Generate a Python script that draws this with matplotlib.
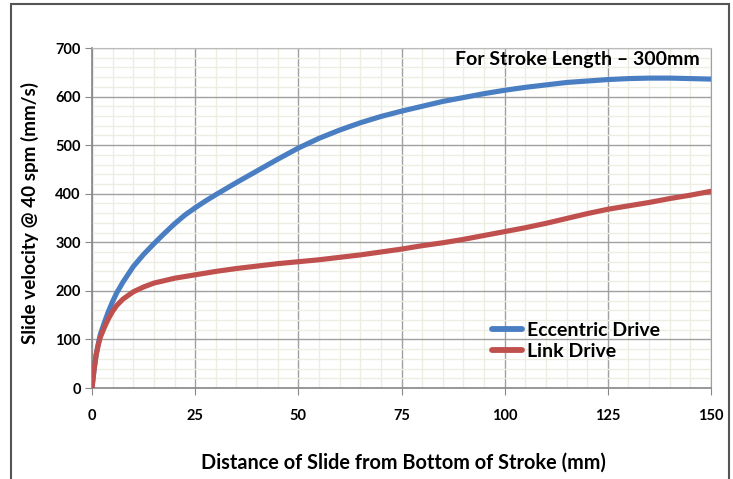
import matplotlib
matplotlib.use("Agg")
import matplotlib.pyplot as plt
from matplotlib.patches import Rectangle
from matplotlib.ticker import MultipleLocator

plt.rcParams['font.family'] = ['Lato', 'DejaVu Sans']

# Data
ecc_x = [0, 0.5, 1, 1.5, 2, 3, 4, 5, 6, 7.5, 10, 12.5, 15, 17.5, 20, 22.5, 25,
         27.5, 30, 35, 40, 45, 50, 55, 60, 65, 70, 75, 80, 85, 90, 95, 100,
         105, 110, 115, 120, 125, 130, 135, 140, 145, 150]
ecc_y = [0, 38, 68, 90, 110, 135, 158, 178, 196, 218, 250, 275, 297, 318, 338,
         356, 371, 385, 398, 423, 447, 471, 494, 514, 531, 546, 559, 570, 580,
         590, 598, 606, 613, 619, 624, 629, 632, 635, 637, 638, 638, 637, 636]

link_x = [0, 0.5, 1, 1.5, 2, 3, 4, 5, 6, 7.5, 10, 12.5, 15, 17.5, 20, 25, 30,
          35, 40, 45, 50, 55, 60, 65, 70, 75, 80, 85, 90, 95, 100, 105, 110,
          115, 120, 125, 130, 135, 140, 145, 150]
link_y = [0, 38, 68, 88, 104, 125, 143, 158, 170, 183, 198, 208, 216, 221, 226,
          233, 240, 246, 251, 256, 260, 264, 269, 274, 280, 286, 293, 299, 306,
          314, 322, 330, 339, 349, 359, 368, 375, 382, 390, 397, 405]

series_names = ["Eccentric Drive", "Link Drive"]
series_colors = ["#4A7EC2", "#C0504D"]
x_ticks = [0, 25, 50, 75, 100, 125, 150]
y_ticks = [0, 100, 200, 300, 400, 500, 600, 700]

fig = plt.figure(figsize=(7.33, 4.79), dpi=100)
ax = fig.add_axes([92/733, 1-388/479, (711-92)/733, (388-48)/479])

ax.plot(ecc_x, ecc_y, color=series_colors[0], lw=3.7, label=series_names[0],
        solid_capstyle='round', solid_joinstyle='round', zorder=4)
ax.plot(link_x, link_y, color=series_colors[1], lw=3.7, label=series_names[1],
        solid_capstyle='round', solid_joinstyle='round', zorder=5)

ax.set_xlim(0, 150)
ax.set_ylim(0, 700)
ax.set_xticks(x_ticks)
ax.set_yticks(y_ticks)
ax.xaxis.set_minor_locator(MultipleLocator(5))
ax.yaxis.set_minor_locator(MultipleLocator(20))
ax.grid(which='minor', color='#EEEDE2', lw=1.0, zorder=0)
ax.grid(which='major', color='#A0A0A0', lw=1.0, zorder=1)
ax.set_axisbelow(True)

for s in ['left', 'bottom']:
    ax.spines[s].set_color('#888888')
    ax.spines[s].set_linewidth(1.2)
ax.spines['top'].set_color('#BBBBBB')
ax.spines['right'].set_color('#A0A0A0')

ax.tick_params(which='major', direction='out', length=5, color='#888888',
               labelsize=10.5)
ax.tick_params(axis='x', pad=10)
ax.tick_params(axis='y', pad=3)
ax.tick_params(which='minor', length=0)
for lab in ax.get_xticklabels() + ax.get_yticklabels():
    lab.set_fontweight('bold')

fig.text(403/733, 1-463/479, "Distance of Slide from Bottom of Stroke (mm)",
         ha='center', va='center', fontsize=14.3, fontweight='bold')
fig.text(30/733, 1-213/479, "Slide velocity @ 40 spm (mm/s)", rotation=90,
         ha='center', va='center', fontsize=13.6, fontweight='bold')
fig.text(700/733, 1-60/479, "For Stroke Length \u2013 300mm", ha='right',
         va='center', fontsize=14, fontweight='bold')

leg = fig.legend(loc='upper left', bbox_to_anchor=(484/733, 1-314/479),
                 frameon=False, fontsize=14, handlelength=1.55,
                 handletextpad=0.25, labelspacing=0.2, borderaxespad=0)
for t in leg.get_texts():
    t.set_fontweight('bold')
for h in leg.legend_handles:
    h.set_linewidth(4.2)

fig.patches.append(Rectangle((11/733, -0.05), (729-11)/733, 1.05-4/479,
                             transform=fig.transFigure, fill=False,
                             edgecolor='#555555', lw=1.5))

fig.savefig("out.png", dpi=100)
